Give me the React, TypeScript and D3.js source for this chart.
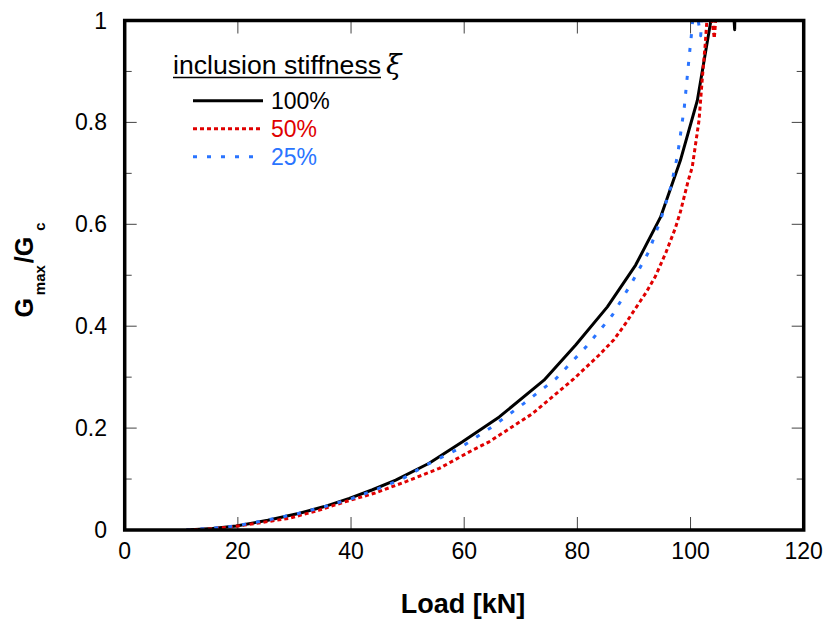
import React from 'react';
import * as d3 from 'd3';

// load [kN] and Gmax/Gc, one pair of arrays per inclusion stiffness
const load100 = [10.9, 15.5, 19.7, 25.3, 30.9, 35.3, 39.7, 43.8, 47.9, 53.8, 59.7, 66.2, 74.1, 79.7, 85.3, 90.3, 94.7, 98.2, 101.2, 103.6, 106.0, 107.8, 108.2];
const g100 = [0.0, 0.003, 0.008, 0.019, 0.033, 0.046, 0.062, 0.079, 0.098, 0.131, 0.173, 0.222, 0.294, 0.363, 0.438, 0.52, 0.614, 0.725, 0.843, 1.0, 1.3, 0.982, 1.3];

const load50 = [11.0, 15.0, 19.1, 23.2, 29.1, 34.4, 39.1, 44.1, 49.7, 55.6, 61.5, 64.4, 72.0, 79.4, 83.8, 86.5, 88.5, 90.4, 92.2, 93.8, 95.7, 97.3, 98.2, 99.6, 100.3, 101.5, 102.1, 102.6, 103.2, 104.2, 104.8];
const g50 = [0.0, 0.002, 0.0065, 0.013, 0.023, 0.039, 0.056, 0.072, 0.095, 0.121, 0.157, 0.173, 0.228, 0.297, 0.343, 0.374, 0.405, 0.437, 0.467, 0.498, 0.546, 0.592, 0.624, 0.686, 0.712, 0.804, 0.889, 0.954, 1.05, 0.965, 1.05];

const load25 = [10.9, 15.0, 19.7, 25.0, 30.5, 35.0, 40.0, 45.0, 49.0, 53.2, 59.1, 65.0, 70.5, 76.2, 81.5, 86.2, 89.7, 92.6, 94.7, 96.5, 97.7, 98.9, 99.7, 100.3, 100.6, 101.8, 102.2];
const g25 = [0.0, 0.003, 0.008, 0.019, 0.032, 0.045, 0.061, 0.082, 0.1, 0.127, 0.16, 0.203, 0.248, 0.297, 0.359, 0.422, 0.487, 0.546, 0.608, 0.673, 0.735, 0.83, 0.922, 0.988, 1.05, 0.97, 1.05];

const legendLabels = ['100%', '50%', '25%'];
const xTicks = [0, 20, 40, 60, 80, 100, 120];
const yTicks = [0, 0.1, 0.2, 0.3, 0.4, 0.5, 0.6, 0.7, 0.8, 0.9, 1];

const font = '"Liberation Sans", Arial, sans-serif';
const red = '#e00000';
const blue = '#2a74ff';

export default function App() {
  const width = 835;
  const height = 621;
  const left = 124.7, right = 803.7, top = 20.5, bottom = 530;

  const x = d3.scaleLinear().domain([0, 120]).range([left, right]);
  const y = d3.scaleLinear().domain([0, 1]).range([bottom, top]);

  const line = d3.line<[number, number]>()
    .x(d => x(d[0]))
    .y(d => y(d[1]));

  const series = [
    { pts: load100.map((l, i) => [l, g100[i]] as [number, number]), color: '#000', dash: null, w: 3 },
    { pts: load50.map((l, i) => [l, g50[i]] as [number, number]), color: red, dash: '4,3', w: 3 },
    { pts: load25.map((l, i) => [l, g25[i]] as [number, number]), color: blue, dash: '4,10', w: 3 },
  ];

  const isMajor = (v: number) => Math.abs(Math.round(v * 10) % 2) === 0;

  return (
    <svg width={width} height={height} style={{ position: 'absolute', left: 0, top: 0 }} fontFamily={font}>
      <defs>
        <clipPath id="plot">
          <rect x={left} y={top} width={right - left} height={bottom - top} />
        </clipPath>
      </defs>
      <rect width={width} height={height} fill="#fff" />

      {/* ticks on all four sides */}
      <g stroke="#444" strokeWidth={1}>
        {xTicks.map(t => (
          <g key={'xt' + t}>
            <line x1={x(t)} x2={x(t)} y1={bottom} y2={bottom - 13} />
            <line x1={x(t)} x2={x(t)} y1={top} y2={top + 13} />
          </g>
        ))}
        {yTicks.map(t => {
          const len = isMajor(t) ? 12 : 7;
          return (
            <g key={'yt' + t}>
              <line x1={left} x2={left + len} y1={y(t)} y2={y(t)} />
              <line x1={right} x2={right - len} y1={y(t)} y2={y(t)} />
            </g>
          );
        })}
      </g>

      {/* curves */}
      <g clipPath="url(#plot)" fill="none">
        {series.map((s, i) => (
          <path key={i} d={line(s.pts) || ''} stroke={s.color} strokeWidth={s.w}
            strokeDasharray={s.dash || undefined} strokeLinejoin="round" />
        ))}
      </g>

      <rect x={left} y={top} width={right - left} height={bottom - top} fill="none" stroke="#000" strokeWidth={3.5} />

      {/* tick labels */}
      {xTicks.map(t => (
        <text key={'xl' + t} x={x(t)} y={559} fontSize={23} textAnchor="middle">{t}</text>
      ))}
      {yTicks.filter(isMajor).map(t => (
        <text key={'yl' + t} x={107} y={y(t) + 8} fontSize={23} textAnchor="end">{d3.format('~g')(t)}</text>
      ))}

      {/* axis titles */}
      <text x={463} y={613} fontSize={27} fontWeight="bold" textAnchor="middle">Load [kN]</text>
      <text transform="translate(33,270) rotate(-90)" fontSize={25} fontWeight="bold" textAnchor="middle">
        G<tspan fontSize={15} dy={12} dx={3}>max</tspan>
        <tspan dy={-12} dx={2}>/G</tspan>
        <tspan fontSize={15} dy={12} dx={6}>c</tspan>
      </text>

      {/* legend */}
      <text x={173} y={74} fontSize={26.5} textLength={208} lengthAdjust="spacingAndGlyphs">inclusion stiffness</text>
      <line x1={173} x2={381} y1={77.5} y2={77.5} stroke="#000" strokeWidth={1.5} />
      <text x={386} y={74} fontSize={28} fontStyle="italic" fontFamily='"DejaVu Serif", serif'>ξ</text>
      {series.map((s, i) => {
        const ly = 100.7 + i * 28;
        return (
          <g key={'lg' + i}>
            <line x1={193} x2={263} y1={ly} y2={ly} stroke={s.color} strokeWidth={s.w} strokeDasharray={s.dash || undefined} />
            <text x={271} y={ly + 8.5} fontSize={23} fill={i === 0 ? '#000' : s.color}>{legendLabels[i]}</text>
          </g>
        );
      })}
    </svg>
  );
}
